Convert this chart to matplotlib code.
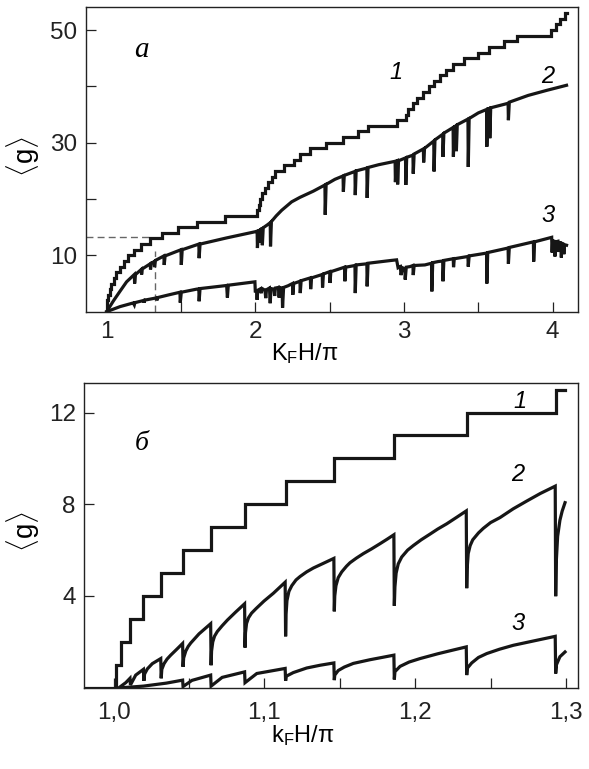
import numpy as np
import matplotlib
matplotlib.use("Agg")
import matplotlib.pyplot as plt
from matplotlib.ticker import FixedLocator, FixedFormatter

plt.rcParams['font.family'] = ['Liberation Sans', 'DejaVu Sans']
plt.rcParams['mathtext.fontset'] = 'custom'
plt.rcParams['mathtext.rm'] = 'Liberation Sans'
plt.rcParams['mathtext.it'] = 'Liberation Sans:italic'

# ---------------- top panel (a) data ----------------
top_c1_x = [1.000, 1.0015, 1.0048, 1.0109, 1.0198, 1.0313, 1.0461, 1.0647, 1.0872, 1.1141,
            1.1464, 1.1862, 1.2342, 1.2932, 1.37, 1.48, 1.605, 1.795, 2.012, 2.022,
            2.034, 2.048, 2.065, 2.085, 2.11, 2.135, 2.19, 2.26, 2.30, 2.37,
            2.475, 2.59, 2.69, 2.76, 2.95, 3.01, 3.03, 3.06, 3.09, 3.13,
            3.17, 3.20, 3.24, 3.28, 3.33, 3.40, 3.50, 3.57, 3.67, 3.76,
            3.99, 4.02, 4.05, 4.08, 4.095]
top_c1_y = [0, 1, 2, 3, 4, 5, 6, 7, 8, 9,
            10, 11, 12, 13, 14, 15, 16, 17, 18, 19,
            20, 21, 22, 23, 24, 25, 26, 27, 28, 29,
            30, 31, 32, 33, 34, 35, 36, 37, 38, 39,
            40, 41, 42, 43, 44, 45, 46, 47, 48, 49,
            50, 51, 52, 53, 53]

top_c2 = [
    (1.000, 0.0), (1.045, 1.9), (1.089, 3.6), (1.134, 5.3),
    (1.186, 6.6), (1.188, 5.0), (1.194, 6.6),
    (1.233, 7.5), (1.235, 6.6), (1.240, 7.6),
    (1.293, 8.5), (1.295, 7.5), (1.300, 8.6),
    (1.320, 8.9), (1.322, 7.9), (1.328, 9.1),
    (1.385, 9.9), (1.387, 8.3), (1.393, 9.9),
    (1.500, 11.0), (1.502, 8.3), (1.508, 11.0),
    (1.620, 12.0), (1.622, 9.5), (1.628, 12.0),
    (1.807, 13.1),
    (2.000, 14.2), (2.012, 14.3), (2.014, 11.3), (2.020, 14.3), (2.030, 14.5), (2.032, 12.3),
    (2.038, 14.6), (2.045, 14.7), (2.047, 11.8), (2.053, 14.9),
    (2.080, 15.4), (2.100, 15.8), (2.102, 11.6), (2.108, 16.0),
    (2.140, 17.0), (2.177, 18.0), (2.244, 19.5), (2.300, 20.3), (2.390, 21.4),
    (2.468, 22.5), (2.470, 17.2), (2.476, 22.6),
    (2.535, 23.5),
    (2.590, 24.1), (2.592, 21.3), (2.598, 24.2),
    (2.670, 24.9), (2.672, 20.7), (2.678, 25.0),
    (2.750, 25.5), (2.752, 20.2), (2.758, 25.6),
    (2.830, 26.1),
    (2.940, 26.7), (2.942, 23.0), (2.948, 26.7), (2.955, 26.8), (2.957, 22.6), (2.963, 26.8),
    (3.010, 27.3), (3.012, 22.5), (3.018, 27.4),
    (3.060, 27.8), (3.062, 24.5), (3.068, 28.0),
    (3.130, 28.9), (3.132, 26.5), (3.138, 29.0),
    (3.200, 30.3), (3.202, 24.9), (3.208, 30.5),
    (3.260, 31.5), (3.262, 27.5), (3.268, 31.7),
    (3.330, 32.7), (3.332, 27.5), (3.338, 32.8), (3.350, 33.0), (3.352, 28.5), (3.358, 33.2),
    (3.430, 34.2), (3.432, 25.7), (3.438, 34.3),
    (3.500, 35.3),
    (3.555, 35.9), (3.557, 29.3), (3.563, 36.0), (3.575, 36.1), (3.577, 30.8), (3.583, 36.2),
    (3.700, 37.0), (3.702, 34.0), (3.708, 37.2),
    (3.835, 38.4), (3.960, 39.3), (4.093, 40.2),
]

top_c3 = [
    (1.000, 0.0), (1.090, 0.9),
    (1.179, 1.55), (1.186, 1.2), (1.190, 1.6),
    (1.250, 2.0), (1.252, 1.6), (1.256, 2.05),
    (1.336, 2.45), (1.338, 2.0), (1.342, 2.5),
    (1.420, 3.0),
    (1.493, 3.45), (1.495, 1.6), (1.502, 3.45),
    (1.605, 4.0), (1.620, 4.05), (1.622, 1.85), (1.628, 4.1),
    (1.807, 4.65), (1.812, 2.5), (1.818, 4.7),
    (1.997, 5.3),
    (2.000, 3.4), (2.008, 3.9), (2.012, 2.1), (2.016, 3.8), (2.030, 4.0), (2.040, 3.3),
    (2.046, 4.1), (2.065, 3.8), (2.070, 2.4), (2.075, 3.9), (2.095, 4.2), (2.100, 1.5),
    (2.105, 4.1), (2.125, 4.0), (2.130, 2.8), (2.135, 4.2), (2.155, 4.3), (2.160, 2.5),
    (2.165, 4.3), (2.180, 4.2), (2.183, 0.7), (2.190, 4.3),
    (2.220, 4.6),
    (2.250, 5.0), (2.252, 3.0), (2.258, 5.0),
    (2.300, 5.4), (2.302, 3.3), (2.308, 5.5),
    (2.370, 6.0), (2.372, 4.0), (2.378, 6.0),
    (2.450, 6.6), (2.452, 4.3), (2.458, 6.7),
    (2.500, 7.1), (2.502, 5.1), (2.508, 7.1),
    (2.600, 7.9), (2.602, 5.4), (2.608, 7.9),
    (2.670, 8.2), (2.672, 3.3), (2.678, 8.3),
    (2.750, 8.5), (2.752, 4.5), (2.758, 8.6),
    (2.915, 9.1),
    (2.950, 9.2), (2.960, 7.8), (2.975, 8.0), (2.980, 6.5), (2.990, 7.8), (3.006, 7.6),
    (3.008, 5.7), (3.015, 7.9), (3.040, 8.0), (3.060, 8.2), (3.062, 6.5), (3.068, 8.2),
    (3.140, 8.3),
    (3.185, 8.6), (3.187, 3.6), (3.193, 8.7),
    (3.230, 8.9),
    (3.260, 9.0), (3.262, 5.4), (3.268, 9.1),
    (3.331, 9.4), (3.333, 7.9), (3.338, 9.4),
    (3.430, 9.8), (3.432, 8.0), (3.438, 9.9),
    (3.555, 10.4), (3.557, 5.0), (3.563, 10.5),
    (3.700, 11.3), (3.702, 8.5), (3.708, 11.4),
    (3.870, 12.4), (3.872, 8.9), (3.878, 12.4),
    (3.993, 13.2), (3.996, 10.5), (4.000, 12.6), (4.012, 12.5), (4.015, 9.8), (4.019, 12.4),
    (4.035, 12.5), (4.038, 10.6), (4.042, 12.3), (4.055, 12.2), (4.058, 9.6), (4.062, 12.1),
    (4.072, 12.0), (4.075, 10.2), (4.079, 11.9), (4.093, 11.8),
]

# ---------------- bottom panel (b) data ----------------
bot_c1_x = [0.980, 1.0015, 1.0048, 1.0109, 1.0198, 1.0313, 1.0461, 1.0647, 1.0872, 1.1141,
            1.1464, 1.1862, 1.2342, 1.2932, 1.2994]
bot_c1_y = [0, 1, 2, 3, 4, 5, 6, 7, 8, 9, 10, 11, 12, 13, 13]

bot_c2 = [
    (1.0036, 0.0), (1.0081, 0.22), (1.0109, 0.41), (1.0112, 0.12), (1.0147, 0.55),
    (1.0198, 0.80), (1.0201, 0.30), (1.0206, 0.60), (1.0224, 0.82), (1.0257, 1.05),
    (1.0313, 1.27), (1.0316, 0.41), (1.0320, 0.80), (1.0335, 1.05), (1.0355, 1.25),
    (1.0379, 1.42), (1.0415, 1.65), (1.0458, 1.93), (1.0461, 0.91), (1.0465, 1.30),
    (1.0479, 1.60), (1.0495, 1.80), (1.0512, 1.95), (1.0567, 2.35), (1.0644, 2.79),
    (1.0647, 0.98), (1.0650, 1.60), (1.0658, 2.00), (1.0670, 2.25), (1.0688, 2.45),
    (1.0720, 2.70), (1.0755, 2.95), (1.0810, 3.30), (1.0869, 3.66), (1.0872, 1.75),
    (1.0875, 2.40), (1.0882, 2.80), (1.0895, 3.05), (1.0915, 3.25), (1.0945, 3.45),
    (1.0998, 3.78), (1.1060, 4.12), (1.1138, 4.60), (1.1141, 2.24), (1.1144, 3.20),
    (1.1150, 3.80), (1.1163, 4.20), (1.1182, 4.45), (1.1210, 4.70), (1.1237, 4.85),
    (1.1280, 5.05), (1.1325, 5.22), (1.1390, 5.42), (1.1461, 5.64), (1.1464, 3.33),
    (1.1467, 4.00), (1.1475, 4.45), (1.1490, 4.80), (1.1513, 5.05), (1.1545, 5.30),
    (1.1568, 5.45), (1.1610, 5.65), (1.1657, 5.85), (1.1710, 6.05), (1.1767, 6.28),
    (1.1815, 6.48), (1.1859, 6.67), (1.1862, 3.57), (1.1866, 4.40), (1.1874, 5.00),
    (1.1888, 5.40), (1.1911, 5.70), (1.1950, 6.00), (1.1988, 6.20), (1.2040, 6.45),
    (1.2099, 6.70), (1.2150, 6.92), (1.2210, 7.15), (1.2275, 7.43), (1.2339, 7.71),
    (1.2342, 4.34), (1.2345, 5.20), (1.2352, 5.85), (1.2365, 6.20), (1.2382, 6.45),
    (1.2420, 6.75), (1.2452, 6.95), (1.2500, 7.20), (1.2563, 7.42), (1.2650, 7.80),
    (1.2740, 8.14), (1.2830, 8.47), (1.2929, 8.79), (1.2932, 3.99), (1.2936, 5.50),
    (1.2945, 6.60), (1.2960, 7.30), (1.2975, 7.70), (1.2994, 8.07),
]

bot_c3 = [
    (1.0054, 0.0), (1.0198, 0.07), (1.0350, 0.20), (1.0458, 0.33), (1.0461, 0.05),
    (1.0520, 0.32), (1.0644, 0.55), (1.0647, 0.07), (1.0720, 0.45), (1.0869, 0.69),
    (1.0872, 0.22), (1.0950, 0.62), (1.1138, 0.84), (1.1141, 0.30), (1.1145, 0.50),
    (1.1192, 0.66), (1.1281, 0.86), (1.1370, 0.98), (1.1461, 1.08), (1.1464, 0.33),
    (1.1467, 0.55), (1.1490, 0.75), (1.1530, 0.90), (1.1590, 1.06), (1.1700, 1.22),
    (1.1780, 1.32), (1.1859, 1.42), (1.1862, 0.36), (1.1866, 0.70), (1.1900, 0.93),
    (1.1960, 1.12), (1.2032, 1.27), (1.2150, 1.48), (1.2250, 1.64), (1.2339, 1.78),
    (1.2342, 0.55), (1.2346, 0.85), (1.2375, 1.08), (1.2420, 1.32), (1.2475, 1.49),
    (1.2560, 1.68), (1.2651, 1.85), (1.2800, 2.06), (1.2929, 2.24), (1.2932, 0.62),
    (1.2937, 1.00), (1.2960, 1.35), (1.2994, 1.56),
]

# dashed guide (region of panel b)
guide_x = 1.325
guide_y = 13.25
guide_vtop = 10.7

top_xticks = [1, 2, 3, 4]
top_xminor = [1.5, 2.5, 3.5]
top_yticks = [10, 30, 50]
top_yminor = [20, 40]
bot_xticks = [1.0, 1.1, 1.2, 1.3]
bot_xticklabels = ['1,0', '1,1', '1,2', '1,3']
bot_xminor = [1.05, 1.15, 1.25]
bot_yticks = [4, 8, 12]

LC = '#161616'
LW = 2.3

fig = plt.figure(figsize=(5.89, 7.69), dpi=100)
ax1 = fig.add_axes([0.1455, 0.5947, 0.8353, 0.3962])
ax2 = fig.add_axes([0.1426, 0.1057, 0.8382, 0.3966])


def style(ax):
    for s in ax.spines.values():
        s.set_linewidth(1.0)
        s.set_color('#222222')
    ax.tick_params(which='both', direction='in', length=7.5, width=0.9,
                   top=False, right=False, labelsize=17.5, colors='#222222')


# ---- top panel
ax1.plot(top_c1_x, top_c1_y, drawstyle='steps-post', color=LC, lw=LW, solid_joinstyle='miter')
x2, y2 = np.array(top_c2).T
ax1.plot(x2, y2, color=LC, lw=LW, solid_joinstyle='miter')
x3, y3 = np.array(top_c3).T
ax1.plot(x3, y3, color=LC, lw=LW, solid_joinstyle='miter')
ax1.plot([0.86, 1.30], [guide_y, guide_y], color='#666666', lw=1.0, ls=(0, (5, 3)), zorder=0)
ax1.plot([guide_x, guide_x], [0, guide_vtop], color='#666666', lw=1.0, ls=(0, (5, 3)), zorder=0)
ax1.set_xlim(0.859, 4.168)
ax1.set_ylim(0, 54.1)
ax1.xaxis.set_major_locator(FixedLocator(top_xticks))
ax1.xaxis.set_minor_locator(FixedLocator(top_xminor))
ax1.yaxis.set_major_locator(FixedLocator(top_yticks))
ax1.yaxis.set_minor_locator(FixedLocator(top_yminor))
style(ax1)
ax1.tick_params(axis='x', pad=7)
ax1.tick_params(axis='y', pad=6)
ax1.text(1.237, 46.5, 'а', fontsize=21, fontstyle='italic', family='Liberation Serif',
         ha='center', va='center')
ax1.text(2.946, 42.4, '1', fontsize=17, fontstyle='italic', ha='center', va='center')
ax1.text(3.967, 41.7, '2', fontsize=17, fontstyle='italic', ha='center', va='center')
ax1.text(3.967, 17.0, '3', fontsize=17, fontstyle='italic', ha='center', va='center')

# ---- bottom panel
ax2.plot(bot_c1_x, bot_c1_y, drawstyle='steps-post', color=LC, lw=LW, solid_joinstyle='miter')
bx2, by2 = np.array(bot_c2).T
ax2.plot(bx2, by2, color=LC, lw=LW, solid_joinstyle='miter')
bx3, by3 = np.array(bot_c3).T
ax2.plot(bx3, by3, color=LC, lw=LW, solid_joinstyle='miter')
ax2.set_xlim(0.9804, 1.3078)
ax2.set_ylim(0, 13.3)
ax2.xaxis.set_major_locator(FixedLocator(bot_xticks))
ax2.xaxis.set_major_formatter(FixedFormatter(bot_xticklabels))
ax2.xaxis.set_minor_locator(FixedLocator(bot_xminor))
ax2.yaxis.set_major_locator(FixedLocator(bot_yticks))
style(ax2)
ax2.tick_params(axis='x', pad=10)
ax2.tick_params(axis='y', pad=6)
ax2.text(1.0189, 10.66, 'б', fontsize=20, fontstyle='italic', family='Liberation Serif',
         ha='center', va='center')
ax2.text(1.2696, 12.48, '1', fontsize=17, fontstyle='italic', ha='center', va='center')
ax2.text(1.2682, 9.31, '2', fontsize=17, fontstyle='italic', ha='center', va='center')
ax2.text(1.2682, 2.81, '3', fontsize=17, fontstyle='italic', ha='center', va='center')

# axis labels
fig.text(305 / 589, 1 - 360 / 769, r'K$_{\rm F}$H/π', fontsize=17, ha='center', va='baseline')
fig.text(303 / 589, 1 - 742 / 769, r'k$_{\rm F}$H/π', fontsize=17, ha='center', va='baseline')
fig.text(23 / 589, 1 - 157 / 769, r'$\langle$g$\rangle$', fontsize=20, rotation=90,
         ha='center', va='center')
fig.text(23 / 589, 1 - 532 / 769, r'$\langle$g$\rangle$', fontsize=20, rotation=90,
         ha='center', va='center')

fig.savefig('out.png', dpi=100)
